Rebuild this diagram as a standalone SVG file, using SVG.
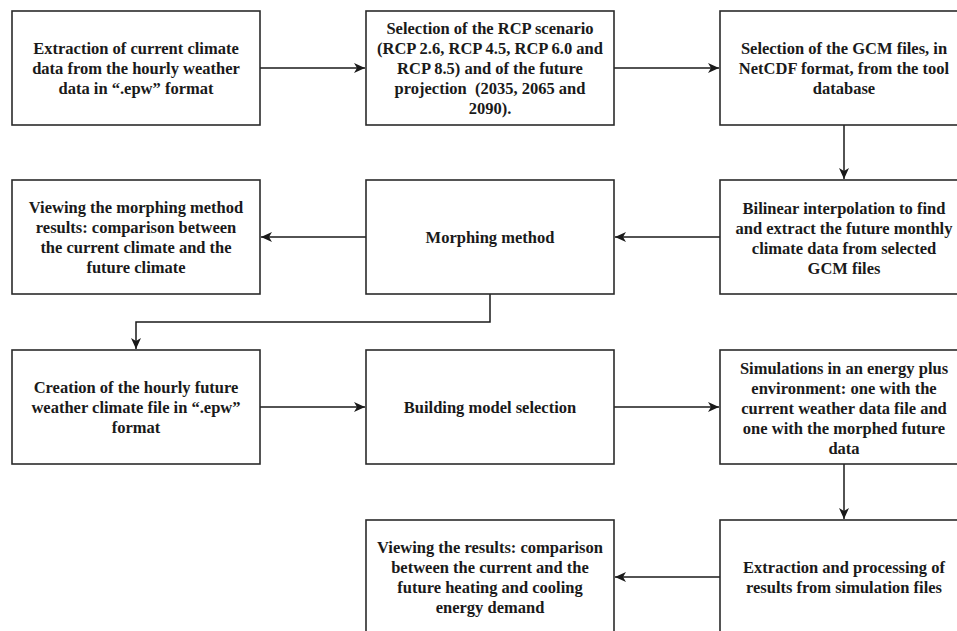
<svg xmlns="http://www.w3.org/2000/svg" width="957" height="631" viewBox="0 0 957 631">
<style>
.box{fill:#fff;stroke:#2b2b2b;stroke-width:1.6}
.t{font-family:"Liberation Serif","Times New Roman",serif;font-weight:bold;font-size:16.5px;fill:#1a1a1a;text-anchor:middle}
.c{fill:none;stroke:#1a1a1a;stroke-width:1.5}
</style>
<defs>
<marker id="arr" markerWidth="12" markerHeight="10" refX="11" refY="5" orient="auto" markerUnits="userSpaceOnUse">
<path d="M0,0 L11,5 L0,10 L3,5 Z" fill="#1a1a1a"/>
</marker>
</defs>
<rect width="957" height="631" fill="#fff"/>
<g id="connectors">
<path class="c" d="M260,68 H365" marker-end="url(#arr)"/>
<path class="c" d="M614,68 H719" marker-end="url(#arr)"/>
<path class="c" d="M844,125 V179" marker-end="url(#arr)"/>
<path class="c" d="M720,237 H615" marker-end="url(#arr)"/>
<path class="c" d="M366,237 H261" marker-end="url(#arr)"/>
<path class="c" d="M490,294 V322 H136 V349" marker-end="url(#arr)"/>
<path class="c" d="M260,407 H365" marker-end="url(#arr)"/>
<path class="c" d="M614,407 H719" marker-end="url(#arr)"/>
<path class="c" d="M844,442 V519" marker-end="url(#arr)"/>
<path class="c" d="M720,577 H615" marker-end="url(#arr)"/>
</g>
<g id="n1"><rect class="box" x="12" y="11" width="248" height="114"/>
<text class="t" x="136"><tspan x="136" y="53.5">Extraction of current climate</tspan><tspan x="136" y="73.5">data from the hourly weather</tspan><tspan x="136" y="93.5">data in “.epw” format</tspan></text></g>
<g id="n2"><rect class="box" x="366" y="11" width="248" height="114"/>
<text class="t" x="490"><tspan x="490" y="33.5">Selection of the RCP scenario</tspan><tspan x="490" y="53.5">(RCP 2.6, RCP 4.5, RCP 6.0 and</tspan><tspan x="490" y="73.5">RCP 8.5) and of the future</tspan><tspan x="490" y="93.5">projection &#160;(2035, 2065 and</tspan><tspan x="490" y="113.5">2090).</tspan></text></g>
<g id="n3"><rect class="box" x="720" y="11" width="248" height="114"/>
<text class="t" x="844"><tspan x="844" y="53.5">Selection of the GCM files, in</tspan><tspan x="844" y="73.5">NetCDF format, from the tool</tspan><tspan x="844" y="93.5">database</tspan></text></g>
<g id="n4"><rect class="box" x="720" y="180" width="248" height="114"/>
<text class="t" x="844"><tspan x="844" y="213.5">Bilinear interpolation to find</tspan><tspan x="844" y="233.5">and extract the future monthly</tspan><tspan x="844" y="253.5">climate data from selected</tspan><tspan x="844" y="273.5">GCM files</tspan></text></g>
<g id="n5"><rect class="box" x="366" y="180" width="248" height="114"/>
<text class="t" x="490"><tspan x="490" y="242.5">Morphing method</tspan></text></g>
<g id="n6"><rect class="box" x="12" y="180" width="248" height="114"/>
<text class="t" x="136"><tspan x="136" y="212.5">Viewing the morphing method</tspan><tspan x="136" y="232.5">results: comparison between</tspan><tspan x="136" y="252.5">the current climate and the</tspan><tspan x="136" y="272.5">future climate</tspan></text></g>
<g id="n7"><rect class="box" x="12" y="350" width="248" height="114"/>
<text class="t" x="136"><tspan x="136" y="392.5">Creation of the hourly future</tspan><tspan x="136" y="412.5">weather climate file in “.epw”</tspan><tspan x="136" y="432.5">format</tspan></text></g>
<g id="n8"><rect class="box" x="366" y="350" width="248" height="114"/>
<text class="t" x="490"><tspan x="490" y="412.5">Building model selection</tspan></text></g>
<g id="n9"><rect class="box" x="720" y="350" width="248" height="114"/>
<text class="t" x="844"><tspan x="844" y="373.5">Simulations in an energy plus</tspan><tspan x="844" y="393.5">environment: one with the</tspan><tspan x="844" y="413.5">current weather data file and</tspan><tspan x="844" y="433.5">one with the morphed future</tspan><tspan x="844" y="453.5">data</tspan></text></g>
<g id="n10"><rect class="box" x="720" y="520" width="248" height="114"/>
<text class="t" x="844"><tspan x="844" y="572.5">Extraction and processing of</tspan><tspan x="844" y="592.5">results from simulation files</tspan></text></g>
<g id="n11"><rect class="box" x="366" y="520" width="248" height="114"/>
<text class="t" x="490"><tspan x="490" y="552.5">Viewing the results: comparison</tspan><tspan x="490" y="572.5">between the current and the</tspan><tspan x="490" y="592.5">future heating and cooling</tspan><tspan x="490" y="612.5">energy demand</tspan></text></g>
</svg>
